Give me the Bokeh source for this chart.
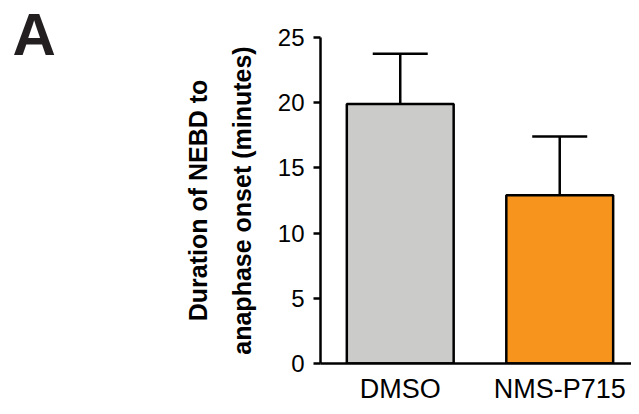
from bokeh.plotting import figure
from bokeh.layouts import row
from bokeh.models import Range1d, FixedTicker, Whisker, TeeHead, ColumnDataSource, Label
from bokeh.embed import file_html
from bokeh.resources import INLINE

panel_letter = "A"
categories = ["DMSO", "NMS-P715"]
means = [19.9, 12.9]
errors = [3.85, 4.5]
colors = ["#CBCBCA", "#F7941E"]
y_ticks = [0, 5, 10, 15, 20, 25]

xs = [i + 0.5 for i in range(len(categories))]
src = ColumnDataSource(dict(
    x=xs, top=means, color=colors,
    lower=means, upper=[m + e for m, e in zip(means, errors)],
))

FONT = "Liberation Sans"
W, H, WA = 631, 406, 80

# Panel letter figure
pa = figure(width=WA, height=H, output_backend="svg", toolbar_location=None,
            x_axis_type=None, y_axis_type=None, frame_align=False,
            min_border_left=0, min_border_right=0, min_border_top=0, min_border_bottom=0)
pa.outline_line_color = None
pa.grid.visible = False
pa.background_fill_color = None
pa.border_fill_color = None
pa.add_layout(Label(x=12, y=H - 34, x_units="screen", y_units="screen", text=panel_letter,
                    text_font=FONT, text_font_style="bold", text_baseline="alphabetic",
                    text_font_size="60px", text_color="#231F20"))

# Main chart
p = figure(width=W - WA, height=H, output_backend="svg", toolbar_location=None,
           x_range=Range1d(0, 1.95), y_range=Range1d(0, 25), frame_align=False,
           min_border_left=320 - WA, min_border_right=0, min_border_top=37, min_border_bottom=43)
p.outline_line_color = None
p.grid.visible = False
p.background_fill_color = None
p.border_fill_color = None

p.vbar(x="x", top="top", width=0.67, bottom=0, source=src, fill_color="color",
       line_color="black", line_width=2.5)

w = Whisker(base="x", lower="lower", upper="upper", source=src,
            line_color="black", line_width=2.5,
            upper_head=TeeHead(size=55, line_color="black", line_width=2.5),
            lower_head=None)
p.add_layout(w)

ya = p.yaxis[0]
ya.ticker = FixedTicker(ticks=y_ticks)
ya.minor_tick_line_color = None
ya.major_tick_out = 7
ya.major_tick_in = 0
ya.axis_line_width = 2.5
ya.major_tick_line_width = 2.5
ya.axis_line_color = "black"
ya.major_tick_line_color = "black"
ya.major_label_text_font = FONT
ya.major_label_text_font_size = "24px"
ya.major_label_text_color = "black"
ya.major_label_standoff = 9
ya.axis_label = "Duration of NEBD to\nanaphase onset (minutes)"
ya.axis_label_text_font = FONT
ya.axis_label_text_font_style = "bold"
ya.axis_label_text_font_size = "25px"
ya.axis_label_text_line_height = 1.55
ya.axis_label_text_color = "black"
ya.axis_label_standoff = 19

xa = p.xaxis[0]
xa.ticker = FixedTicker(ticks=xs)
xa.major_label_overrides = {x: c for x, c in zip(xs, categories)}
xa.major_tick_line_color = None
xa.minor_tick_line_color = None
xa.axis_line_width = 2.5
xa.axis_line_color = "black"
xa.major_label_text_font = FONT
xa.major_label_text_font_size = "27px"
xa.major_label_text_color = "black"
xa.major_label_standoff = 4

layout = row(pa, p, spacing=0)
open("out.html", "w").write(file_html(layout, INLINE))
